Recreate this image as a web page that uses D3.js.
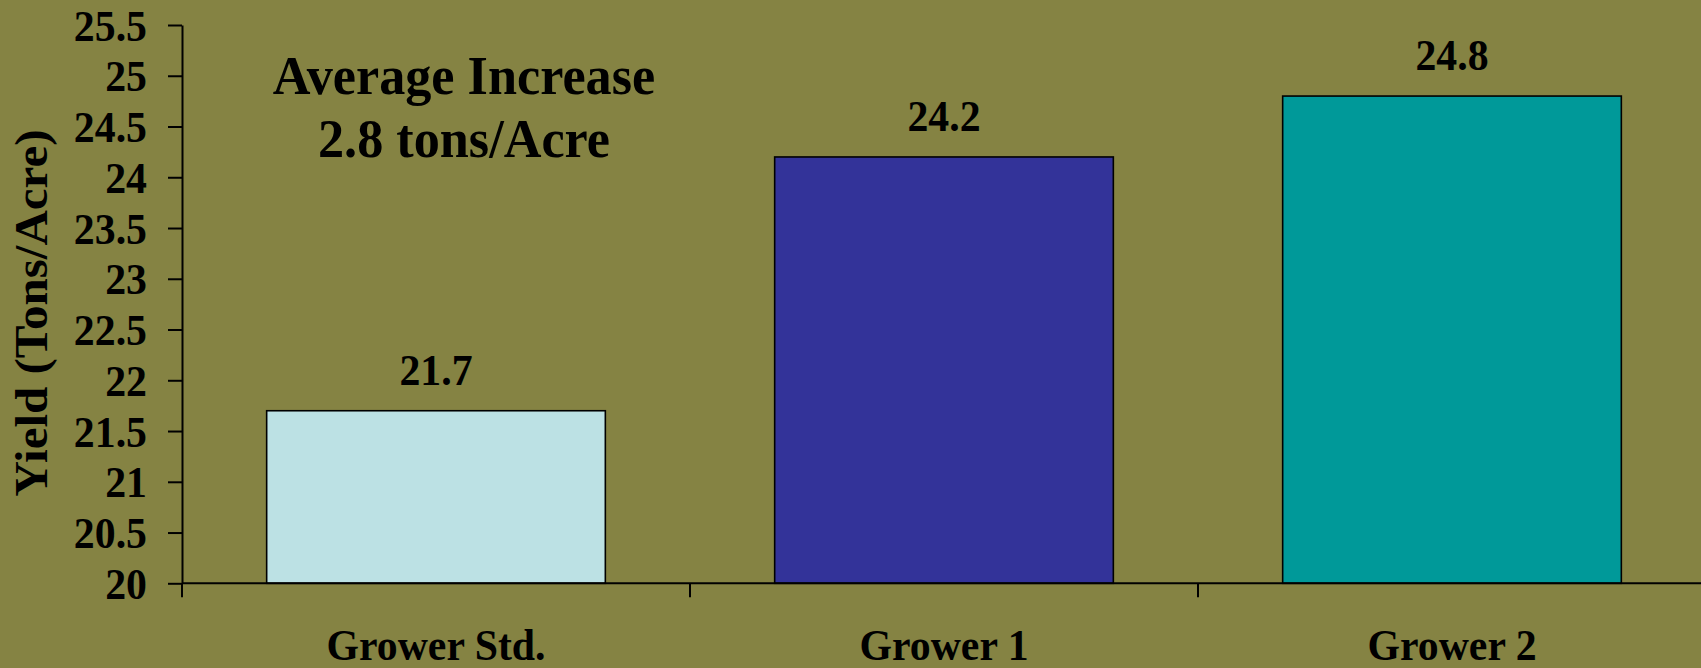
<!DOCTYPE html>
<html>
<head>
<meta charset="utf-8">
<script src="https://cdn.jsdelivr.net/npm/d3@7"></script>
<style>
  html, body { margin: 0; padding: 0; background: #858343; }
  svg { display: block; }
</style>
</head>
<body>
<svg id="chart" width="1701" height="668"></svg>
<script>
// Yield per treatment
const categories = ["Grower Std.", "Grower 1", "Grower 2"];
const yields = [21.7, 24.2, 24.8];
const barColors = ["#bce1e4", "#333399", "#009999"];
const yTicks = [20, 20.5, 21, 21.5, 22, 22.5, 23, 23.5, 24, 24.5, 25, 25.5];
const yTickLabels = ["20", "20.5", "21", "21.5", "22", "22.5", "23", "23.5", "24", "24.5", "25", "25.5"];
const noteLines = ["Average Increase", "2.8 tons/Acre"];
const yTitle = "Yield (Tons/Acre)";

const FONT = "'Liberation Serif', 'Times New Roman', 'DejaVu Serif', serif";
const plot = { left: 182, right: 1706, top: 25, bottom: 583.3 };
const squish = 0.95; // horizontal text compression

const svg = d3.select("#chart");

// Apply the shared text style
function styleText(sel, size) {
  return sel
    .style("font-family", FONT)
    .style("font-weight", "bold")
    .style("font-size", size + "px")
    .attr("fill", "#000");
}

const x = d3.scaleBand()
  .domain(categories)
  .range([plot.left, plot.right])
  .paddingInner(1 / 3)
  .paddingOuter(1 / 6);

const y = d3.scaleLinear()
  .domain([20, 25.5])
  .range([plot.bottom, plot.top]);

// Bars
svg.append("g").selectAll("rect")
  .data(yields)
  .join("rect")
  .attr("x", (d, i) => x(categories[i]))
  .attr("y", d => y(d))
  .attr("width", x.bandwidth())
  .attr("height", d => y(20) - y(d))
  .attr("fill", (d, i) => barColors[i])
  .attr("stroke", "#000")
  .attr("stroke-width", 1.6);

// Value labels above bars
svg.append("g").selectAll("text")
  .data(yields)
  .join("text")
  .attr("text-anchor", "middle")
  .attr("transform", (d, i) => `translate(${x(categories[i]) + x.bandwidth() / 2},${y(d) - 26}) scale(${squish},1)`)
  .text(d => d.toFixed(1))
  .call(styleText, 44);

// Y axis
const yAxis = d3.axisLeft(y)
  .tickValues(yTicks)
  .tickFormat((d, i) => yTickLabels[i])
  .tickSize(14)
  .tickSizeOuter(0);

const gy = svg.append("g")
  .attr("transform", `translate(${plot.left},0)`)
  .call(yAxis)
  .attr("font-family", null)
  .attr("font-size", null);
gy.select(".domain").attr("stroke", "#000").attr("stroke-width", 2);
gy.selectAll(".tick line").attr("stroke", "#000").attr("stroke-width", 2);
gy.selectAll(".tick text")
  .attr("x", null).attr("dy", null)
  .attr("text-anchor", "end")
  .attr("transform", `translate(-35,15) scale(${squish},1)`)
  .call(styleText, 44);

// X axis: baseline and category boundary ticks
const gx = svg.append("g");
gx.append("line")
  .attr("x1", plot.left).attr("x2", plot.right)
  .attr("y1", y(20)).attr("y2", y(20))
  .attr("stroke", "#000").attr("stroke-width", 2);
const boundaries = d3.range(categories.length + 1).map(i => plot.left + i * x.step());
gx.selectAll(".bound")
  .data(boundaries)
  .join("line")
  .attr("x1", d => d).attr("x2", d => d)
  .attr("y1", y(20)).attr("y2", y(20) + 14)
  .attr("stroke", "#000").attr("stroke-width", 2);

// Category labels
gx.selectAll(".cat")
  .data(categories)
  .join("text")
  .attr("text-anchor", "middle")
  .attr("transform", d => `translate(${x(d) + x.bandwidth() / 2},660) scale(${squish},1)`)
  .text(d => d)
  .call(styleText, 44);

// Y axis title
svg.append("text")
  .attr("text-anchor", "middle")
  .attr("transform", `translate(47,313) scale(${squish},1) rotate(-90)`)
  .text(yTitle)
  .call(styleText, 49);

// Annotation
svg.append("g").selectAll("text")
  .data(noteLines)
  .join("text")
  .attr("text-anchor", "middle")
  .attr("transform", (d, i) => `translate(464,${94.3 + i * 62.4}) scale(${squish},1)`)
  .text(d => d)
  .call(styleText, 55);
</script>
</body>
</html>
